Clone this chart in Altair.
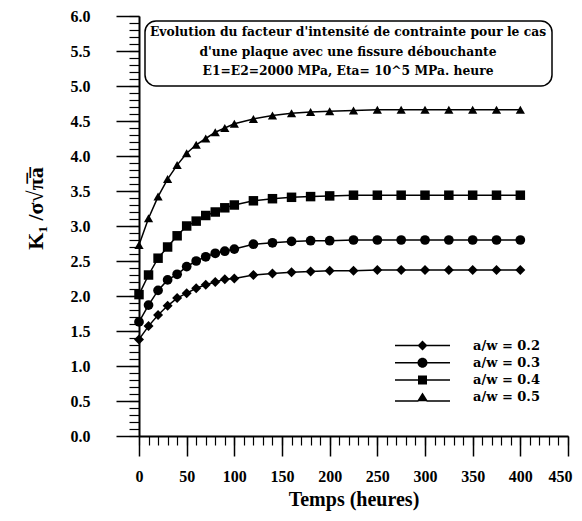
import altair as alt
import pandas as pd

# ---- data ----
temps = [0, 10, 20, 30, 40, 50, 60, 70, 80, 90, 100, 120, 140, 160, 180, 200,
         225, 250, 275, 300, 325, 350, 375, 400]
k_02 = [1.38, 1.57, 1.73, 1.86, 1.97, 2.04, 2.11, 2.16, 2.20, 2.24, 2.25, 2.30,
        2.32, 2.34, 2.35, 2.36, 2.36, 2.37, 2.37, 2.37, 2.37, 2.37, 2.37, 2.37]
k_03 = [1.63, 1.87, 2.08, 2.23, 2.31, 2.42, 2.50, 2.56, 2.61, 2.64, 2.67, 2.74,
        2.76, 2.78, 2.79, 2.79, 2.80, 2.80, 2.80, 2.80, 2.80, 2.80, 2.80, 2.80]
k_04 = [2.02, 2.30, 2.54, 2.70, 2.86, 3.00, 3.07, 3.15, 3.20, 3.26, 3.30, 3.36,
        3.39, 3.41, 3.42, 3.43, 3.44, 3.44, 3.44, 3.44, 3.44, 3.44, 3.44, 3.44]
k_05 = [2.73, 3.11, 3.42, 3.67, 3.87, 4.04, 4.16, 4.25, 4.34, 4.40, 4.46, 4.53,
        4.58, 4.61, 4.63, 4.64, 4.65, 4.66, 4.66, 4.66, 4.66, 4.66, 4.66, 4.66]
series_labels = ["a/w = 0.2", "a/w = 0.3", "a/w = 0.4", "a/w = 0.5"]
x_ticks = [0, 50, 100, 150, 200, 250, 300, 350, 400, 450]
x_minor = list(range(0, 451, 10))
y_ticks = [0.0, 0.5, 1.0, 1.5, 2.0, 2.5, 3.0, 3.5, 4.0, 4.5, 5.0, 5.5, 6.0]
y_minor = [round(i * 0.1, 1) for i in range(0, 61)]
title_lines = [
    "Evolution du facteur d'intensité de contrainte pour le cas",
    "d'une plaque avec une fissure débouchante",
    "E1=E2=2000 MPa, Eta= 10^5 MPa. heure",
]

rows = []
for lab, vals in zip(series_labels, [k_02, k_03, k_04, k_05]):
    for t, v in zip(temps, vals):
        rows.append({"t": t, "k": v, "serie": lab})
df = pd.DataFrame(rows)
one = pd.DataFrame({"a": [0]})

SERIF = "Liberation Serif"
WIDE = "DejaVu Serif"

xs = alt.Scale(domain=[0, 450], nice=False, zero=False)
ys = alt.Scale(domain=[0, 6], nice=False, zero=False)

x_axis = alt.Axis(values=x_ticks, format="d", orient="bottom", grid=False,
                  tickSize=20, tickWidth=1.5, tickColor="black",
                  domainWidth=2, domainColor="black",
                  labelFont=SERIF, labelFontSize=16, labelFontWeight="bold",
                  labelColor="black", labelPadding=12,
                  labelFlush=1, labelFlushOffset=4,
                  title="Temps (heures)", titleFont=SERIF, titleFontSize=20,
                  titleFontWeight="bold", titleColor="black",
                  titleBaseline="middle", titleY=63)
y_axis = alt.Axis(values=y_ticks, format=".1f", orient="left", grid=False,
                  tickSize=23, tickWidth=1.5, tickColor="black",
                  domainWidth=2, domainColor="black",
                  labelFont=SERIF, labelFontSize=16, labelFontWeight="bold",
                  labelColor="black", labelPadding=26, labelFlush=False,
                  title="K₁ /σ√π̅a̅", titleFont=SERIF, titleFontSize=22,
                  titleFontWeight="bold", titleColor="black",
                  titleAngle=270, titleBaseline="middle", titleAlign="center",
                  titleX=-104, titleY=192)
x_minor_axis = alt.Axis(values=x_minor, orient="bottom", grid=False, labels=False,
                        domain=False, tickSize=9, tickWidth=1.2,
                        tickColor="black", title=None)
y_minor_axis = alt.Axis(values=y_minor, orient="left", grid=False, labels=False,
                        domain=False, tickSize=10, tickWidth=1.2,
                        tickColor="black", title=None)

base = alt.Chart(df)

lines = base.mark_line(color="black", strokeWidth=1.5).encode(
    x=alt.X("t:Q", scale=xs, axis=x_axis),
    y=alt.Y("k:Q", scale=ys, axis=y_axis),
    detail="serie:N",
)

points = base.mark_point(filled=True, color="black", opacity=1).encode(
    x=alt.X("t:Q", scale=xs, axis=None),
    y=alt.Y("k:Q", scale=ys, axis=None),
    shape=alt.Shape("serie:N", legend=None,
                    scale=alt.Scale(domain=series_labels,
                                    range=["diamond", "circle", "square", "triangle-up"])),
    size=alt.Size("serie:N", legend=None,
                  scale=alt.Scale(domain=series_labels, range=[100, 85, 95, 100])),
)

# legend symbols: short line (two thin filled bars) + marker
bar = "M-5.5,{a}L-0.8,{a}L-0.8,{b}L-5.5,{b}ZM0.8,{a}L5.5,{a}L5.5,{b}L0.8,{b}Z"
legend_paths = [
    bar.format(a=-0.15, b=0.15) + "M0,-1L1,0L0,1L-1,0Z",
    bar.format(a=-0.15, b=0.15) + "M1,0A1,1,0,1,1,-1,0A1,1,0,1,1,1,0Z",
    bar.format(a=-0.15, b=0.15) + "M-0.9,-0.9L0.9,-0.9L0.9,0.9L-0.9,0.9Z",
    bar.format(a=0.55, b=0.85) + "M0,-1L1.1,0.75L-1.1,0.75Z",
]
legend_layer = base.transform_filter("datum.k < -100").mark_point(
    filled=True, color="black", opacity=1).encode(
    x=alt.X("t:Q", scale=xs, axis=None),
    y=alt.Y("k:Q", scale=ys, axis=None),
    shape=alt.Shape("serie:N",
                    scale=alt.Scale(domain=series_labels, range=legend_paths),
                    legend=alt.Legend(
                        title=None, orient="none", legendX=277, legendY=323,
                        padding=0, symbolSize=100, rowPadding=3.3, labelOffset=44,
                        labelFont=WIDE, labelFontSize=13, labelFontWeight="bold",
                        labelColor="black",
                        symbolFillColor="black", symbolStrokeColor="black",
                        symbolStrokeWidth=0.5, symbolOpacity=1)),
)

minor_x = base.transform_filter("datum.k < -100").mark_point().encode(
    x=alt.X("t:Q", scale=xs, axis=x_minor_axis),
)
minor_y = base.transform_filter("datum.k < -100").mark_point().encode(
    y=alt.Y("k:Q", scale=ys, axis=y_minor_axis),
)

box = alt.Chart(one).mark_rect(fill="white", stroke="black", strokeWidth=1.5,
                               cornerRadius=11).encode(
    x=alt.value(6), x2=alt.value(413), y=alt.value(5), y2=alt.value(70))
box_text = alt.Chart(one).mark_text(
    text=title_lines, font=WIDE, fontSize=12.3, fontWeight="bold", color="black",
    lineHeight=19.5, align="center", baseline="top").encode(
    x=alt.value(209), y=alt.value(10))

chart = alt.layer(minor_x, minor_y, lines, points, legend_layer, box, box_text).resolve_scale(
    shape="independent", size="independent"
).resolve_axis(x="independent", y="independent").properties(
    width=429, height=420,
    padding={"left": 131, "top": 8, "right": 6, "bottom": 77},
    autosize=alt.AutoSizeParams(type="none"),
).configure_view(strokeWidth=0)

chart.save("out.html", embed_options={"renderer": "svg", "actions": False})
